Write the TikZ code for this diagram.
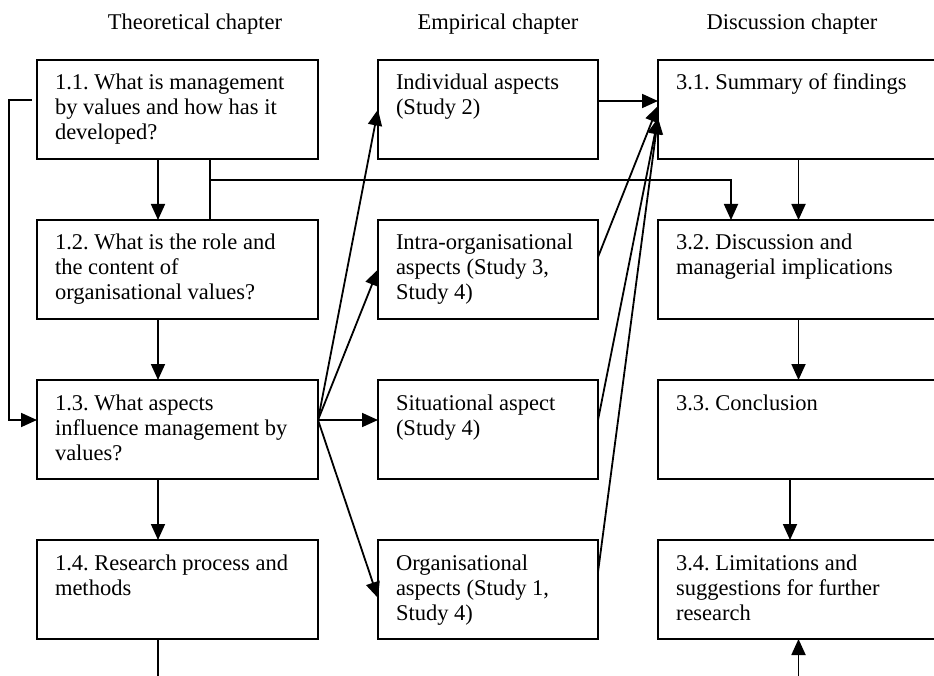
\documentclass[tikz,border=0pt]{standalone}
\usepackage{fontspec}
\setmainfont{Liberation Serif}
\usetikzlibrary{arrows.meta}
\frenchspacing
\newcommand{\boxtxt}[2]{\parbox[c][99pt][t]{#1}{\raggedright\rule{0pt}{30pt}#2}}

\begin{document}
\begin{tikzpicture}[x=1pt,y=-1pt,line width=1.8pt,
    >={Triangle[length=16pt,width=14pt]},
    font=\fontsize{22.5}{25}\selectfont,
    box/.style={draw,line width=2.2pt,anchor=north west,inner xsep=18pt,inner ysep=0pt,outer sep=0pt},
    head/.style={anchor=base}]
    \useasboundingbox (0,0) rectangle (934,676);
    % headings
    \node[head] (hth) at (195,30) {Theoretical chapter};
    \node[head] (hemp) at (498,30) {Empirical chapter};
    \node[head] (hdisc) at (792,30) {Discussion chapter};
    % theoretical chapter
    \node[box] (t1) at (37,60) {\boxtxt{245pt}{1.1. What is management\\by values and how has it\\developed?}};
    \node[box] (t2) at (37,220) {\boxtxt{245pt}{1.2. What is the role and\\the content of\\organisational values?}};
    \node[box] (t3) at (37,380) {\boxtxt{245pt}{1.3. What aspects\\influence management by\\values?}};
    \node[box] (t4) at (37,540) {\boxtxt{245pt}{1.4. Research process and\\methods}};
    % empirical chapter
    \node[box] (e1) at (378,60) {\boxtxt{184pt}{Individual aspects\\(Study 2)}};
    \node[box] (e2) at (378,220) {\boxtxt{184pt}{Intra-organisational\\aspects (Study 3,\\Study 4)}};
    \node[box] (e3) at (378,380) {\boxtxt{184pt}{Situational aspect\\(Study 4)}};
    \node[box] (e4) at (378,540) {\boxtxt{184pt}{Organisational\\aspects (Study 1,\\Study 4)}};
    % discussion chapter
    \node[box] (d1) at (658,60) {\boxtxt{245pt}{3.1. Summary of findings}};
    \node[box] (d2) at (658,220) {\boxtxt{245pt}{3.2. Discussion and\\managerial implications}};
    \node[box] (d3) at (658,380) {\boxtxt{245pt}{3.3. Conclusion}};
    \node[box] (d4) at (658,540) {\boxtxt{245pt}{3.4. Limitations and\\suggestions for further\\research}};

    \coordinate (loop) at ([xshift=-5pt,yshift=9.5pt]t1.west);
    \coordinate (fan) at ([yshift=9.5pt]t3.east);
    \coordinate (tout) at (158,676);
    \coordinate (din) at (798.5,676);

    % left column
    \foreach \a/\b in {t1/t2,t2/t3,t3/t4}
        \draw[->] ([xshift=-19.5pt]\a.south) -- ([xshift=-19.5pt]\b.north);
    \draw ([xshift=32.5pt]t1.south) -- ([xshift=32.5pt]t2.north);
    \draw[->] ([xshift=32.5pt]t1.south) ++(0,21) -| ([xshift=-67.5pt]d2.north);
    \draw[->] (loop) -- ++(-23,0) |- (fan -| t3.west);
    \draw ([xshift=-19.5pt]t4.south) -- (tout);
    % fan out to the studies
    \draw[->] (fan) -- (e1.west);
    \draw[->] (fan) -- (e2.west);
    \draw[->] (fan) -- (fan -| e3.west);
    \draw[->] (fan) -- ([yshift=-8.5pt]e4.west);
    % studies into findings
    \draw[->] ([yshift=8.5pt]e1.east) -- ([yshift=8.5pt]d1.west);
    \draw[->] ([yshift=12.5pt]e2.east) -- ([yshift=3.5pt]d1.west);
    \draw[->] ([yshift=9.5pt]e3.east) -- ([yshift=-8.5pt]d1.west);
    \draw[->] ([yshift=17.5pt]e4.east) -- ([yshift=-8.5pt]d1.west);
    % right column
    \draw[->] (d1.south) -- (d2.north);
    \draw[->] (d2.south) -- (d3.north);
    \draw[->] ([xshift=-8.5pt]d3.south) -- ([xshift=-8.5pt]d4.north);
    \draw[->] (din) -- (d4.south);
\end{tikzpicture}
\end{document}
